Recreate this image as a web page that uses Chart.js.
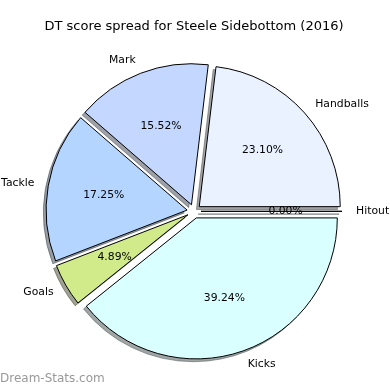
<!DOCTYPE html>
<html>
<head>
<meta charset="utf-8">
<script src="https://cdn.jsdelivr.net/npm/chart.js@4.4.0/dist/chart.umd.min.js"></script>
<style>
    body { margin: 0; background: #fff; }
    #wrap { width: 390px; height: 390px; }
</style>
</head>
<body>
<div id="wrap"><canvas id="pieChart" width="390" height="390"></canvas></div>
<script>
const chartTitle = "DT score spread for Steele Sidebottom (2016)";
const watermark = "Dream-Stats.com";

// listed clockwise from 3 o'clock (the original pie runs the other way round)
const categories = ["Hitout", "Kicks", "Goals", "Tackle", "Mark", "Handballs"];
const shares = [0.00, 39.24, 4.89, 17.25, 15.52, 23.10];
const colors = ["#eef4ff", "#d9ffff", "#d1ea8a", "#b3d5ff", "#c4d8ff", "#ebf2ff"];

const EXPLODE = 7;     // px every slice is pushed out
const SHADOW = 2.8;    // px the drop shadow sits left / down
const FONT = '"DejaVu Sans", "Liberation Sans", sans-serif';

function shadowColor(hex) {
    const n = parseInt(hex.slice(1), 16);
    const r = (n >> 16) & 255, g = (n >> 8) & 255, b = n & 255;
    return `rgba(${Math.round(r * 0.3)},${Math.round(g * 0.3)},${Math.round(b * 0.3)},0.5)`;
}

function wedgePath(ctx, arc) {
    ctx.beginPath();
    ctx.moveTo(arc.x, arc.y);
    ctx.arc(arc.x, arc.y, arc.outerRadius, arc.startAngle, arc.endAngle);
    ctx.closePath();
}

function midAngle(arc) {
    return (arc.startAngle + arc.endAngle) / 2;
}

const explodePie = {
    id: 'explodePie',
    beforeDatasetDraw(chart, args) {
        const ctx = chart.ctx;
        const arcs = args.meta.data;

        // shadows go underneath everything
        arcs.forEach((arc, i) => {
            const mid = midAngle(arc);
            ctx.save();
            ctx.translate(Math.cos(mid) * EXPLODE - SHADOW, Math.sin(mid) * EXPLODE + SHADOW);
            wedgePath(ctx, arc);
            ctx.fillStyle = shadowColor(colors[i]);
            ctx.strokeStyle = shadowColor(colors[i]);
            ctx.lineWidth = 1;
            ctx.fill();
            ctx.stroke();
            ctx.restore();
        });

        arcs.forEach((arc) => {
            const mid = midAngle(arc);
            ctx.save();
            ctx.translate(Math.cos(mid) * EXPLODE, Math.sin(mid) * EXPLODE);
            if (arc.circumference === 0) {
                // empty slice still shows as a single edge
                wedgePath(ctx, arc);
                ctx.strokeStyle = '#000';
                ctx.lineWidth = 1;
                ctx.stroke();
            } else {
                arc.draw(ctx);
            }
            ctx.restore();
        });
        return false;
    },
    afterDraw(chart) {
        const ctx = chart.ctx;
        const arcs = chart.getDatasetMeta(0).data;
        const total = shares.reduce((a, b) => a + b, 0);

        ctx.save();
        ctx.fillStyle = '#000';
        ctx.font = '10.8px ' + FONT;
        ctx.textBaseline = 'middle';
        arcs.forEach((arc, i) => {
            const mid = midAngle(arc);
            const cos = Math.cos(mid), sin = Math.sin(mid);
            const lr = EXPLODE + arc.outerRadius * 1.1;
            ctx.textAlign = cos > 0 ? 'left' : 'right';
            ctx.fillText(categories[i], arc.x + cos * lr, arc.y + sin * lr);

            const pr = EXPLODE + arc.outerRadius * 0.6;
            ctx.textAlign = 'center';
            ctx.fillText((shares[i] / total * 100).toFixed(2) + '%', arc.x + cos * pr, arc.y + sin * pr);
        });

        ctx.fillStyle = '#999';
        ctx.font = '12px ' + FONT;
        ctx.textAlign = 'left';
        ctx.fillText(watermark, 0, 379);
        ctx.restore();
    }
};

const ctx = document.getElementById('pieChart').getContext('2d');
const pieChart = new Chart(ctx, {
    type: 'pie',
    data: {
        labels: categories,
        datasets: [{
            data: shares,
            backgroundColor: colors,
            borderColor: '#000',
            borderWidth: 1,
            borderJoinStyle: 'miter'
        }]
    },
    options: {
        responsive: false,
        animation: false,
        rotation: 90,
        radius: 141,
        layout: { padding: { top: 0, left: 0, right: 2, bottom: 1.5 } },
        plugins: {
            legend: { display: false },
            tooltip: { enabled: false },
            title: {
                display: true,
                text: chartTitle,
                color: '#000',
                font: { family: FONT, size: 13, weight: 'normal' },
                padding: { top: 18.5, bottom: 0 }
            }
        }
    },
    plugins: [explodePie]
});
</script>
</body>
</html>
